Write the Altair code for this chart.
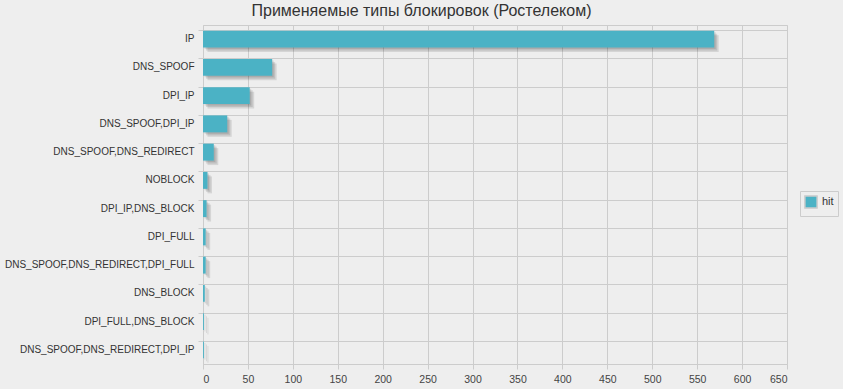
import altair as alt
import pandas as pd

categories = ["IP", "DNS_SPOOF", "DPI_IP", "DNS_SPOOF,DPI_IP", "DNS_SPOOF,DNS_REDIRECT",
              "NOBLOCK", "DPI_IP,DNS_BLOCK", "DPI_FULL", "DNS_SPOOF,DNS_REDIRECT,DPI_FULL",
              "DNS_BLOCK", "DPI_FULL,DNS_BLOCK", "DNS_SPOOF,DNS_REDIRECT,DPI_IP"]
hits = [569, 77, 52, 27, 12, 5, 4, 3, 3, 2, 1, 1]
series = ["hit"] * len(categories)
x_ticks = list(range(0, 651, 50))

df = pd.DataFrame({"type": categories, "hit": hits, "series": series})

y_enc = alt.Y("type:N", sort=categories, title=None,
              scale=alt.Scale(paddingInner=0.4, paddingOuter=0.2),
              axis=alt.Axis(bandPosition=0, labelFontSize=10, labelColor="#333333",
                            labelPadding=4, tickSize=5, tickColor="#cccccc", labelLimit=0,
                            domainColor="#cccccc", gridColor="#cccccc"))
x_enc = alt.X("hit:Q", title=None,
              scale=alt.Scale(domain=[0, 650], nice=False),
              axis=alt.Axis(values=x_ticks, labelFontSize=10.5, labelColor="#444444",
                            tickColor="#cccccc", domainColor="#cccccc", gridColor="#cccccc",
                            tickSize=5, labelPadding=5))

shadows = []
for off in [1.5, 3.0, 4.5]:
    shadows.append(
        alt.Chart(df).mark_bar(color="#000000", opacity=0.1, xOffset=off, yOffset=off)
        .encode(x=x_enc, y=y_enc)
    )

bars = alt.Chart(df).mark_bar().encode(
    x=x_enc, y=y_enc,
    color=alt.Color("series:N", scale=alt.Scale(range=["#4bb2c5"]),
                    legend=alt.Legend(title=None, orient="none", legendX=597, legendY=166,
                                      symbolType="square", symbolSize=150,
                                      symbolStrokeColor="#cccccc", symbolStrokeWidth=1.5,
                                      labelFontSize=11, labelColor="#333333",
                                      strokeColor="#cccccc", padding=4,
                                      fillColor="#eeeeee"))
)

chart = alt.layer(*shadows, bars).properties(
    width=584, height=339,
    background="#eeeeee",
    autosize=alt.AutoSizeParams(type="none"),
    padding={"left": 203, "top": 25, "right": 56, "bottom": 25},
    title=alt.Title("Применяемые типы блокировок (Ростелеком)", fontSize=16,
                    fontWeight="normal", color="#333333", font="Liberation Sans",
                    anchor="middle", frame="bounds", offset=6),
).configure_view(stroke="#cccccc").configure_axis(grid=True, labelFont="Liberation Sans")\
 .configure_legend(labelFont="Liberation Sans")

chart.save("out.html", embed_options={"renderer": "svg", "actions": False})
